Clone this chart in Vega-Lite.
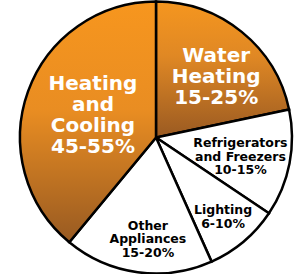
{
  "$schema": "https://vega.github.io/schema/vega-lite/v6.json",
  "width": 301,
  "height": 274,
  "autosize": {"type": "fit", "contains": "padding"},
  "padding": {"left": 11, "top": 1, "right": 0, "bottom": 0},
  "background": "white",
  "config": {"view": {"stroke": null}},
  "data": {
    "values": [
      {"order": 1, "category": "Water Heating", "label": "Water\nHeating\n15-25%", "value": 21.7},
      {"order": 2, "category": "Refrigerators and Freezers", "label": "Refrigerators\nand Freezers\n10-15%", "value": 12.7},
      {"order": 3, "category": "Lighting", "label": "Lighting\n6-10%", "value": 8.9},
      {"order": 4, "category": "Other Appliances", "label": "Other\nAppliances\n15-20%", "value": 17.7},
      {"order": 5, "category": "Heating and Cooling", "label": "Heating\nand\nCooling\n45-55%", "value": 39.0}
    ]
  },
  "encoding": {
    "theta": {"field": "value", "type": "quantitative", "stack": true},
    "order": {"field": "order", "type": "quantitative"}
  },
  "layer": [
    {
      "mark": {"type": "arc", "outerRadius": 136, "stroke": "black", "strokeWidth": 2.5, "strokeJoin": "miter"},
      "encoding": {
        "fill": {
          "condition": [
            {"test": "datum.category === 'Heating and Cooling'", "value": {"gradient": "linear", "x1": 0, "y1": 0, "x2": 0, "y2": 1, "stops": [{"offset": 0, "color": "#f7961e"}, {"offset": 0.45, "color": "#e98d22"}, {"offset": 1, "color": "#985a22"}]}},
            {"test": "datum.category === 'Water Heating'", "value": {"gradient": "linear", "x1": 0, "y1": 0, "x2": 0, "y2": 1, "stops": [{"offset": 0, "color": "#f5961f"}, {"offset": 0.4, "color": "#e08824"}, {"offset": 1, "color": "#9a5a22"}]}}
          ],
          "value": "white"
        }
      }
    },
    {
      "mark": {"type": "text", "radius": 67, "dy": -31, "font": "DejaVu Sans", "fontWeight": "bold", "fontSize": 20, "lineHeight": 21, "lineBreak": "\n", "align": "center", "baseline": "middle", "fill": "white"},
      "encoding": {"text": {"condition": {"test": "datum.order === 5", "field": "label"}, "value": ""}}
    },
    {
      "mark": {"type": "text", "radius": 86, "dx": 6, "dy": -14.5, "font": "DejaVu Sans", "fontWeight": "bold", "fontSize": 20, "lineHeight": 21, "lineBreak": "\n", "align": "center", "baseline": "middle", "fill": "white"},
      "encoding": {"text": {"condition": {"test": "datum.order === 1", "field": "label"}, "value": ""}}
    },
    {
      "mark": {"type": "text", "radius": 86, "dy": -10.5, "font": "DejaVu Sans", "fontWeight": "bold", "fontSize": 12.5, "lineHeight": 13.5, "lineBreak": "\n", "align": "center", "baseline": "middle", "fill": "black"},
      "encoding": {"text": {"condition": {"test": "datum.order === 2", "field": "label"}, "value": ""}}
    },
    {
      "mark": {"type": "text", "radius": 104, "dy": -6.75, "font": "DejaVu Sans", "fontWeight": "bold", "fontSize": 12.5, "lineHeight": 13.5, "lineBreak": "\n", "align": "center", "baseline": "middle", "fill": "black"},
      "encoding": {"text": {"condition": {"test": "datum.order === 3", "field": "label"}, "value": ""}}
    },
    {
      "mark": {"type": "text", "radius": 101, "dx": 5.5, "dy": -12, "font": "DejaVu Sans", "fontWeight": "bold", "fontSize": 12.5, "lineHeight": 13.5, "lineBreak": "\n", "align": "center", "baseline": "middle", "fill": "black"},
      "encoding": {"text": {"condition": {"test": "datum.order === 4", "field": "label"}, "value": ""}}
    }
  ]
}
